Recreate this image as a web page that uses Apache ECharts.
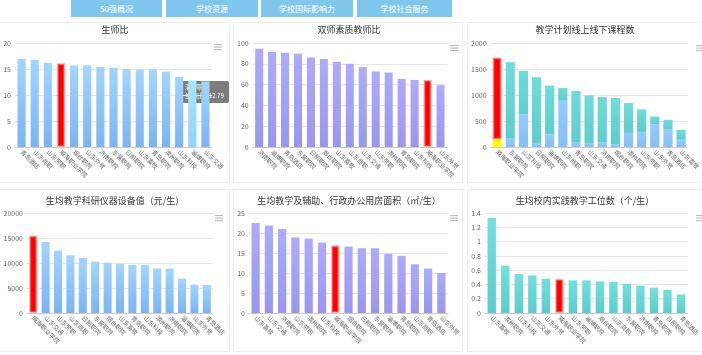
<!DOCTYPE html>
<html><head><meta charset="utf-8">
<script src="https://cdn.jsdelivr.net/npm/echarts@6/dist/echarts.min.js"></script>
<style>
html,body{margin:0;padding:0;background:#fff;width:702px;height:355px;overflow:hidden;font-family:"Noto Sans CJK SC",sans-serif;}
.nav{position:absolute;top:0;height:17px;background:#7fc7ec;color:#fff;font-size:8px;line-height:17px;text-align:center;}
.panel{position:absolute;border:1px solid #eeeeee;box-sizing:border-box;}
.c{position:absolute;}
</style></head><body>
<div class="nav" style="left:71px;width:91px">50强概况</div>
<div class="nav" style="left:166px;width:92px">学校资源</div>
<div class="nav" style="left:261px;width:92px">学校国际影响力</div>
<div class="nav" style="left:357px;width:95px">学校社会服务</div>
<div class="panel" style="left:-1px;top:22px;width:231px;height:161px"></div>
<div class="panel" style="left:233px;top:22px;width:230px;height:161px"></div>
<div class="panel" style="left:467px;top:22px;width:236px;height:161px"></div>
<div class="panel" style="left:-1px;top:189px;width:231px;height:163px"></div>
<div class="panel" style="left:233px;top:189px;width:230px;height:163px"></div>
<div class="panel" style="left:467px;top:189px;width:236px;height:163px"></div>
<div id="c1" class="c" style="left:0;top:20px;width:230px;height:165px"></div>
<div id="c2" class="c" style="left:234px;top:20px;width:230px;height:165px"></div>
<div id="c3" class="c" style="left:468px;top:20px;width:234px;height:165px"></div>
<div id="c4" class="c" style="left:0;top:185px;width:230px;height:170px"></div>
<div id="c5" class="c" style="left:234px;top:185px;width:230px;height:170px"></div>
<div id="c6" class="c" style="left:468px;top:185px;width:234px;height:170px"></div>
<script>
// ---- data ----
const highlight = '威海职业学院';
const cats1 = ['青岛酒店','山东商职','山东劳职','威海职业学院','烟台职院','山东外贸','济南职院','东营职院','日照职院','山东畜牧','青岛职院','滨州职院','山东科技','淄博职院','山东交通'];
const vals1 = [16.9,16.8,16.2,16.1,15.7,15.7,15.4,15.2,15.0,14.9,14.9,14.5,13.5,12.79,12.6];
const title1 = '生师比';

const cats2 = ['济南职院','淄博职院','青岛酒店','东营职院','日照职院','烟台职院','山东畜牧','山东商职','山东交通','山东劳职','滨州职院','青岛职院','山东科技','威海职业学院','山东外贸'];
const vals2 = [94.5,91.3,90.6,89.7,86.1,84.5,81.9,80.0,76.8,72.6,71.6,65.5,64.5,64.5,59.4];
const title2 = '双师素质教师比';

const cats3 = ['威海职业学院','东营职院','山东科技','日照职院','淄博职院','山东商职','青岛职院','山东交通','济南职院','烟台职院','滨州职院','山东劳职','山东外贸','青岛酒店','山东畜牧'];
const online3 = [142,161,632,77,239,890,84,77,84,52,271,290,432,335,142];
const offline3 = [1581,1471,833,1265,942,245,993,917,877,890,574,433,155,188,187];
const title3 = '教学计划线上线下课程数';

const cats4 = ['威海职业学院','山东交通','山东劳职','山东商职','日照职院','东营职院','烟台职院','山东畜牧','青岛职院','山东科技','滨州职院','济南职院','淄博职院','山东外贸','青岛酒店'];
const vals4 = [15467,14200,12467,11533,11000,10267,10067,9867,9600,9600,8933,8867,6867,5667,5600];
const title4 = '生均教学科研仪器设备值（元/生）';

const cats5 = ['山东畜牧','山东交通','济南职院','山东劳职','滨州职院','山东科技','威海职业学院','烟台职院','日照职院','东营职院','淄博职院','青岛职院','山东商职','青岛酒店','山东外贸'];
const vals5 = [22.5,21.9,21.0,18.9,18.6,17.6,16.9,16.6,16.2,16.2,14.8,14.3,12.2,11.1,10.0];
const title5 = '生均教学及辅助、行政办公用房面积（㎡/生）';

const cats6 = ['山东畜牧','滨州职院','山东科技','山东交通','山东外贸','威海职业学院','山东劳职','淄博职院','烟台职院','山东商职','东营职院','济南职院','青岛职院','日照职院','青岛酒店'];
const vals6 = [1.33,0.663,0.546,0.527,0.48,0.476,0.457,0.457,0.443,0.434,0.41,0.383,0.355,0.322,0.261];
const title6 = '生均校内实践教学工位数（个/生）';

const tipName = '淄博职院';
const tipLabel = '生师比';

// ---- helpers ----
const FONT = '"Noto Sans CJK SC", sans-serif';
function grad(a,b){return new echarts.graphic.LinearGradient(0,0,0,1,[{offset:0,color:a},{offset:1,color:b}]);}
const redStyle = {color:'#ff0000', borderColor:'rgba(255,110,110,0.55)', borderWidth:2};
function menuIcon(x,y){
  return {type:'group', left:x, top:y, children:[0,2.5,5].map(o=>({type:'rect', shape:{x:0,y:o,width:8,height:1.2}, style:{fill:'#c0c0c0'}}))};
}
function baseOpt(title, titleTop, grid, cats, yAxis, menuX, menuY){
  return {
    animation:false,
    textStyle:{fontFamily:FONT},
    title:{text:title,left:'center',top:titleTop,padding:0,textStyle:{fontSize:9,fontWeight:'normal',color:'#333',fontFamily:FONT}},
    grid:grid,
    xAxis:{type:'category',data:cats,axisTick:{show:false},axisLine:{lineStyle:{color:'#cccccc'}},
      axisLabel:{rotate:-45,fontSize:6,color:'#666',interval:0,margin:4,fontFamily:FONT}},
    yAxis:Object.assign({type:'value',axisLine:{show:false},axisTick:{show:false},
      splitLine:{lineStyle:{color:'#e6e6e6'}},axisLabel:{fontSize:7,color:'#666',margin:4,formatter:v=>String(v)}},yAxis),
    graphic:[menuIcon(menuX,menuY)],
    series:[]
  };
}
function simpleSeries(cats, vals, colA, colB, bw){
  return {type:'bar',barWidth:bw,
    itemStyle:{color:grad(colA,colB)},
    data:vals.map((v,i)=>cats[i]===highlight?{value:v,itemStyle:redStyle}:v)};
}

// chart 1
let o1 = baseOpt(title1,5,{left:15,top:23,width:197,height:104},cats1,{min:0,max:20,interval:5},214,24);
let s1 = simpleSeries(cats1, vals1, '#a3d5fd', '#7cb3f4', '62%');
s1.data = s1.data.map((d,i)=>cats1[i]===tipName?{value:vals1[i],itemStyle:{color:grad('#a9e6fd','#8fd3fb')}}:d);
o1.series=[s1];
o1.graphic.push({type:'group',left:182,top:61,children:[
  {type:'rect',shape:{x:0,y:0,width:47,height:22,r:2},style:{fill:'rgba(80,80,80,0.75)'}},
  {type:'text',x:3,y:3,style:{text:tipName,fill:'#fff',fontSize:6,fontFamily:FONT}},
  {type:'text',x:3,y:12,style:{text:tipLabel+'：12.79',fill:'#fff',fontSize:6,fontFamily:FONT}}
]});
echarts.init(document.getElementById('c1')).setOption(o1);

// chart 2
let o2 = baseOpt(title2,5,{left:18,top:23,width:195,height:104},cats2,{min:0,max:100,interval:20},216,25);
o2.series=[simpleSeries(cats2, vals2, '#aeabfb', '#9a96ee', '62%')];
echarts.init(document.getElementById('c2')).setOption(o2);

// chart 3
let o3 = baseOpt(title3,5,{left:21,top:23,width:206,height:104},cats3,{min:0,max:2000,interval:500},228,25);
o3.series=[
  {type:'bar',stack:'a',barWidth:'70%',itemStyle:{color:grad('#92cbfc','#86bef7')},
   data:online3.map((v,i)=>cats3[i]===highlight?{value:v,itemStyle:{color:'#ffff00'}}:v)},
  {type:'bar',stack:'a',barWidth:'70%',itemStyle:{color:grad('#70dcd9','#5ecdcb')},
   data:offline3.map((v,i)=>cats3[i]===highlight?{value:v,itemStyle:redStyle}:v)}
];
echarts.init(document.getElementById('c3')).setOption(o3);

// chart 4
let o4 = baseOpt(title4,11,{left:27,top:28,width:186,height:100},cats4,{min:0,max:20000,interval:5000},215,30);
o4.series=[simpleSeries(cats4, vals4, '#a3d5fd', '#7cb3f4', '65%')];
echarts.init(document.getElementById('c4')).setOption(o4);

// chart 5
let o5 = baseOpt(title5,11,{left:15,top:28,width:199,height:100},cats5,{min:0,max:25,interval:5},216,30);
o5.series=[simpleSeries(cats5, vals5, '#aeabfb', '#9a96ee', '62%')];
echarts.init(document.getElementById('c5')).setOption(o5);

// chart 6
let o6 = baseOpt(title6,11,{left:17,top:28,width:208,height:100},cats6,{min:0,max:1.4,interval:0.2},228,30);
o6.series=[simpleSeries(cats6, vals6, '#72e0dc', '#5ccdcb', '62%')];
echarts.init(document.getElementById('c6')).setOption(o6);
</script>
</body></html>
